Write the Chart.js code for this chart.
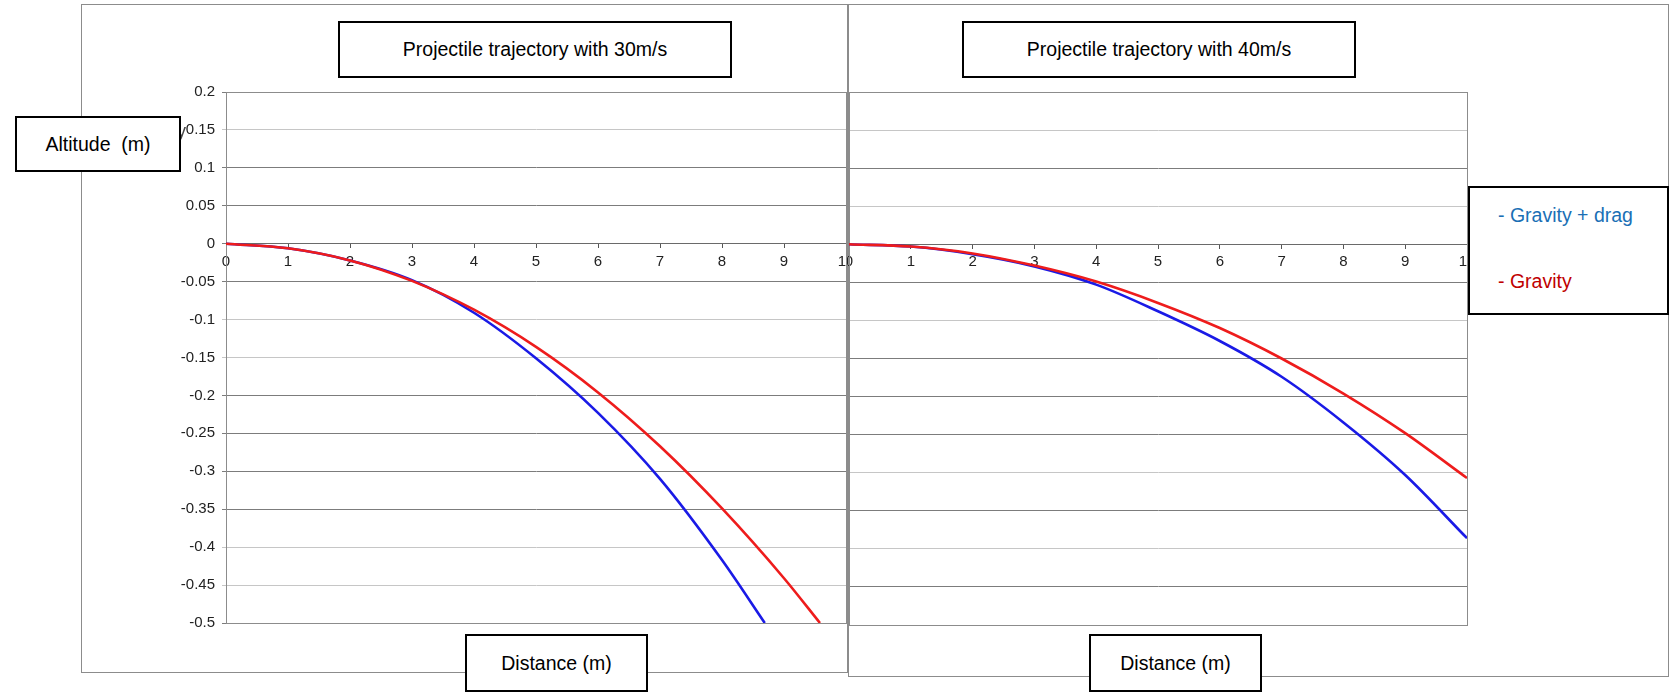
<!DOCTYPE html>
<html>
<head>
<meta charset="utf-8">
<script src="https://cdn.jsdelivr.net/npm/chart.js@4.4.0/dist/chart.umd.min.js"></script>
<style>
  html, body { margin: 0; padding: 0; background: #fff; }
  body { width: 1679px; height: 699px; position: relative; overflow: hidden; font-family: "Liberation Sans", Arial, sans-serif; }
  .frame { position: absolute; box-sizing: border-box; border: 1px solid #8c8c8c; background: #fff; }
  .cv { position: absolute; }
  .box { position: absolute; box-sizing: border-box; border: 2px solid #000; background: #fff;
         display: flex; align-items: center; justify-content: center; font-size: 19.5px; color: #000;
         white-space: pre; z-index: 10; }
  .legend { position: absolute; box-sizing: border-box; border: 2px solid #000; background: #fff; z-index: 10; font-size: 19.5px; }
  .legend div { position: absolute; left: 28px; white-space: pre; }
</style>
</head>
<body>
<div class="frame" style="left:81px;top:4px;width:767px;height:669px;z-index:1"></div>
<div class="cv" style="left:150px;top:80px;width:698px;height:560px;z-index:2"><canvas id="c30" width="698" height="560"></canvas></div>
<div style="position:absolute;left:177px;top:121px;font-size:18px;color:#444;z-index:3">y</div>
<div class="frame" style="left:848px;top:4px;width:821px;height:673px;z-index:3"></div>
<div class="cv" style="left:848px;top:80px;width:620px;height:560px;z-index:4"><canvas id="c40" width="620" height="560"></canvas></div>

<div class="box" style="left:338px;top:21px;width:394px;height:57px">Projectile trajectory with 30m/s</div>
<div class="box" style="left:962px;top:21px;width:394px;height:57px">Projectile trajectory with 40m/s</div>
<div class="box" style="left:15px;top:116px;width:166px;height:56px">Altitude  (m)</div>
<div class="box" style="left:465px;top:634px;width:183px;height:58px">Distance (m)</div>
<div class="box" style="left:1089px;top:634px;width:173px;height:58px">Distance (m)</div>
<div class="legend" style="left:1468px;top:186px;width:201px;height:129px">
  <div style="top:16px;color:#1a6fb5">- Gravity + drag</div>
  <div style="top:82px;color:#c00000">- Gravity</div>
</div>

<script>
// axis ranges
const yMin = -0.5, yMax = 0.2, yStep = 0.05;
const xMin = 0, xMax = 10, xStep = 1;

// 30 m/s
const dist30Gravity = [0, 1, 2, 3, 4, 5, 6, 7, 8, 9, 9.58];
const alt30Gravity  = [0, -0.006, -0.022, -0.049, -0.087, -0.136, -0.196, -0.267, -0.349, -0.441, -0.5];
const dist30Drag    = [0, 1, 2, 3, 4, 5, 6, 7, 8, 8.69];
const alt30Drag     = [0, -0.006, -0.022, -0.048, -0.091, -0.151, -0.223, -0.310, -0.417, -0.5];

// 40 m/s
const dist40Gravity = [0, 1, 2, 3, 4, 5, 6, 7, 8, 9, 10];
const alt40Gravity  = [0, -0.003, -0.012, -0.028, -0.049, -0.077, -0.110, -0.150, -0.196, -0.248, -0.307];
const dist40Drag    = [0, 1, 2, 3, 4, 5, 6, 7, 8, 9, 10];
const alt40Drag     = [0, -0.003, -0.013, -0.029, -0.053, -0.088, -0.127, -0.174, -0.234, -0.303, -0.386];

const RED = '#ee1c1c';
const BLUE = '#1a1ae6';
const DARK = '#7c7c7c';
const LIGHT = '#c6c6c6';

// the gridlines in the picture alternate between dark and light
const dark30 = [0.2, 0.1, 0.05, 0, -0.05, -0.2, -0.25, -0.3, -0.35, -0.5];
const dark40 = [0.2, 0.1, 0, -0.05, -0.15, -0.2, -0.25, -0.35, -0.45, -0.5];

const pts = (xs, ys) => xs.map((x, i) => ({ x, y: ys[i] }));
const fmt = v => String(Number(v.toFixed(2)));
const font = { family: "'Liberation Sans', Arial, sans-serif", size: 15 };

// keep tick labels from pushing the plot area in
const noPad = s => { s.paddingLeft = s.paddingRight = s.paddingTop = s.paddingBottom = 0; };

const framePlugin = {
    id: 'frame',
    beforeDatasetsDraw(chart) {
        const { ctx, chartArea: { left, right, top, bottom } } = chart;
        ctx.save();
        ctx.strokeStyle = '#8c8c8c';
        ctx.lineWidth = 1;
        ctx.strokeRect(left + 0.5, top + 0.5, right - left, bottom - top);
        ctx.restore();
    }
};

function makeChart(id, gravity, drag, darkList, showY, yWidth, pad) {
    const isDark = v => darkList.some(d => Math.abs(d - v) < 1e-6);
    return new Chart(document.getElementById(id), {
        type: 'scatter',
        data: {
            datasets: [
                { label: 'Gravity', data: gravity, borderColor: RED, borderWidth: 2.6 },
                { label: 'Gravity + drag', data: drag, borderColor: BLUE, borderWidth: 2.6 }
            ].map(d => Object.assign(d, {
                showLine: true, pointRadius: 0, fill: false,
                cubicInterpolationMode: 'monotone', backgroundColor: d.borderColor
            }))
        },
        options: {
            responsive: false,
            animation: false,
            layout: { padding: pad },
            plugins: { legend: { display: false }, tooltip: { enabled: false } },
            scales: {
                y: {
                    min: yMin, max: yMax,
                    afterFit: s => { s.width = yWidth; noPad(s); },
                    ticks: { display: showY, stepSize: yStep, padding: 7, color: '#222', font, callback: fmt },
                    grid: {
                        color: c => isDark(c.tick.value) ? DARK : LIGHT,
                        drawTicks: showY, tickLength: 4
                    },
                    border: { color: '#7c7c7c' }
                },
                x: {
                    type: 'linear',
                    position: { y: 0 },
                    min: xMin, max: xMax,
                    afterFit: noPad,
                    ticks: { stepSize: xStep, padding: 5, color: '#222', font, maxRotation: 0, autoSkip: false },
                    grid: { drawOnChartArea: false, tickLength: 4, color: '#555' },
                    border: { color: '#6a6a6a' }
                }
            }
        },
        plugins: [framePlugin]
    });
}

makeChart('c30', pts(dist30Gravity, alt30Gravity), pts(dist30Drag, alt30Drag), dark30, true, 76,
    { top: 12, bottom: 17, left: 0, right: 2 });
makeChart('c40', pts(dist40Gravity, alt40Gravity), pts(dist40Drag, alt40Drag), dark40, false, 1,
    { top: 12, bottom: 15, left: 0, right: 1 });
</script>
</body>
</html>
